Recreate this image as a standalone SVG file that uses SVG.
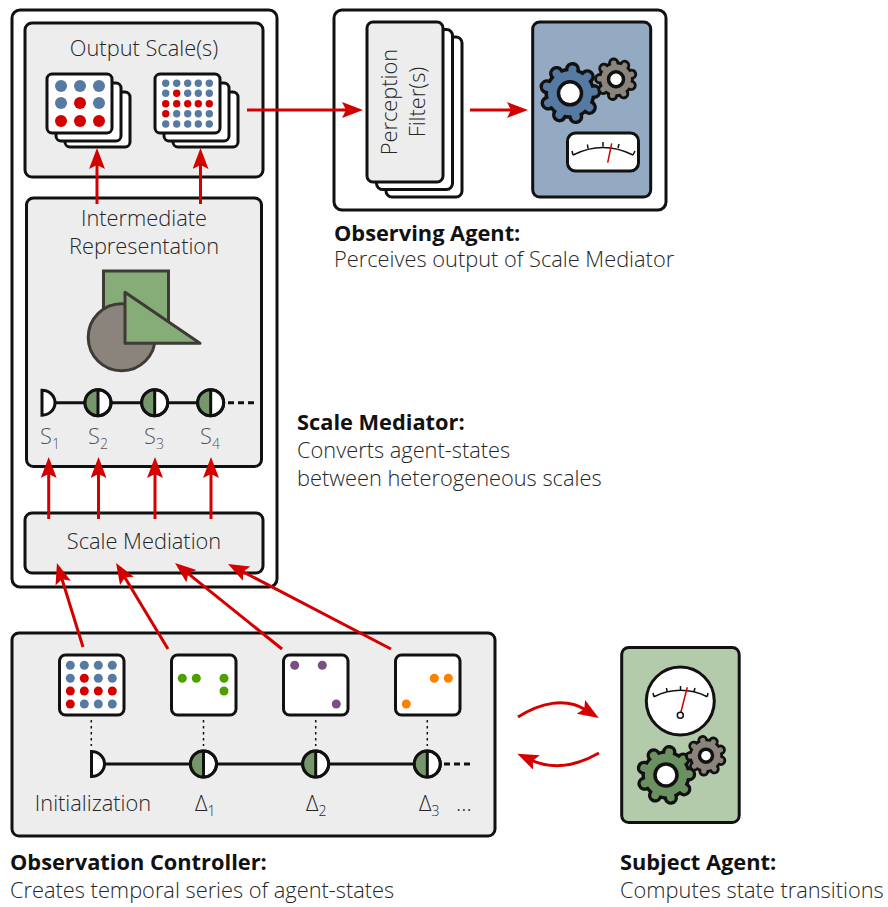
<svg xmlns="http://www.w3.org/2000/svg" width="888" height="907" viewBox="0 0 888 907">
<style>
text{font-family:"Open Sans","Noto Sans","Liberation Sans",sans-serif;font-size:21.8px;font-weight:300;fill:#262626}
.b{font-weight:700;fill:#111}
.s{font-size:14px}
.g{fill:#555}
.m{text-anchor:middle}
.box{fill:#ededed;stroke:#111;stroke-width:3;stroke-linejoin:round}
.card{fill:#fff;stroke:#111;stroke-width:3}
.tl{stroke:#111;stroke-width:3;fill:none}
.dash{stroke:#111;stroke-width:3;fill:none;stroke-dasharray:6 4}
.dot{stroke:#111;stroke-width:1.5;fill:none;stroke-dasharray:2.5 3.5}
.bl{fill:#567aa1}.rd{fill:#d40000}.gr{fill:#4f9e00}.pu{fill:#7a4f85}.or{fill:#ff7f00}
.arrow{stroke:#d40000;stroke-width:3;fill:none;marker-end:url(#ah)}
.hole{fill:#fff;stroke:#111;stroke-width:3.5}
.mk{stroke:#111;stroke-width:1.5;fill:none}
.nd{stroke:#d40000;stroke-width:1.5;fill:none}
.ol{stroke:#111;fill:none;stroke-width:15}
.ols{stroke:#111;fill:none;stroke-width:16.500}
</style>
<defs>
<marker id="ah" markerUnits="userSpaceOnUse" markerWidth="24" markerHeight="18" refX="6" refY="8" orient="auto"><path d="M0,0L21,8L0,16L4,8Z" fill="#d40000"/></marker>
<g id="gearShape" stroke-linecap="round"><circle r="18"/><path d="M0,-19V-24"/><path d="M0,-19V-24" transform="rotate(40)"/><path d="M0,-19V-24" transform="rotate(80)"/><path d="M0,-19V-24" transform="rotate(120)"/><path d="M0,-19V-24" transform="rotate(160)"/><path d="M0,-19V-24" transform="rotate(200)"/><path d="M0,-19V-24" transform="rotate(240)"/><path d="M0,-19V-24" transform="rotate(280)"/><path d="M0,-19V-24" transform="rotate(320)"/></g>
<g id="state"><circle r="13" fill="#fff" stroke="#111" stroke-width="3"/><path d="M0,-12A12,12 0 0 0 0,12Z" fill="#75976a"/><path d="M0,-13V13" stroke="#111" stroke-width="3"/><circle r="13" fill="none" stroke="#111" stroke-width="3"/></g>
<path id="half" d="M0,-12.500A13,12.500 0 0 1 0,12.500Z" fill="#fff" stroke="#111" stroke-width="3"/>
</defs>

<g id="scale-mediator">
<rect x="12" y="10" width="265" height="577" rx="8" fill="#fff" stroke="#111" stroke-width="3"/>
</g>
<g id="output-scales">
<rect class="box" x="25" y="23" width="238" height="154" rx="7"/>
<text class="m" x="144" y="56">Output Scale(s)</text>
<g id="output-coarse">
<rect class="card" x="65" y="92" width="65" height="55" rx="5"/>
<rect class="card" x="56" y="83" width="65" height="58" rx="5"/>
<rect class="card" x="47" y="74" width="65" height="59" rx="5"/>
<circle class="bl" cx="61" cy="86" r="6"/><circle class="bl" cx="80" cy="86" r="6"/><circle class="bl" cx="99" cy="86" r="6"/>
<circle class="bl" cx="61" cy="103" r="6"/><circle class="rd" cx="80" cy="103" r="6"/><circle class="bl" cx="99" cy="103" r="6"/>
<circle class="rd" cx="61" cy="121" r="6"/><circle class="rd" cx="80" cy="121" r="6"/><circle class="rd" cx="99" cy="121" r="6"/>
</g>
<g id="output-fine">
<rect class="card" x="173" y="92" width="65" height="55" rx="5"/>
<rect class="card" x="164" y="83" width="65" height="58" rx="5"/>
<rect class="card" x="155" y="74" width="65" height="59" rx="5"/>
<g class="bl"><circle cx="165.700" cy="83.300" r="3.700"/><circle cx="176.700" cy="83.300" r="3.700"/><circle cx="187.700" cy="83.300" r="3.700"/><circle cx="198.300" cy="83.300" r="3.700"/><circle cx="209.300" cy="83.300" r="3.700"/>
<circle cx="165.700" cy="93.300" r="3.700"/><circle cx="187.700" cy="93.300" r="3.700"/><circle cx="198.300" cy="93.300" r="3.700"/><circle cx="209.300" cy="93.300" r="3.700"/>
<circle cx="176.700" cy="113.700" r="3.700"/><circle cx="187.700" cy="113.700" r="3.700"/><circle cx="198.300" cy="113.700" r="3.700"/><circle cx="209.300" cy="113.700" r="3.700"/>
<circle cx="165.700" cy="124" r="3.700"/><circle cx="176.700" cy="124" r="3.700"/><circle cx="187.700" cy="124" r="3.700"/><circle cx="198.300" cy="124" r="3.700"/><circle cx="209.300" cy="124" r="3.700"/></g>
<g class="rd"><circle cx="176.700" cy="93.300" r="3.700"/><circle cx="165.700" cy="103.700" r="3.700"/><circle cx="176.700" cy="103.700" r="3.700"/><circle cx="187.700" cy="103.700" r="3.700"/><circle cx="198.300" cy="103.700" r="3.700"/><circle cx="209.300" cy="103.700" r="3.700"/><circle cx="165.700" cy="113.700" r="3.700"/></g>
</g>
</g>

<g id="intermediate-representation">
<rect class="box" x="26.500" y="198" width="235" height="268.500" rx="7"/>
<text class="m" x="144" y="226">Intermediate</text>
<text class="m" x="144" y="254">Representation</text>
<rect x="103.500" y="271" width="65" height="68" fill="#86ac78" stroke="#3e3a36" stroke-width="3"/>
<circle cx="121.700" cy="337.300" r="33.500" fill="#8a847c" stroke="#3e3a36" stroke-width="3"/>
<path d="M125,292.300V343.300H200Z" fill="#86ac78" stroke="#3e3a36" stroke-width="3" stroke-linejoin="round"/>
<path class="tl" d="M54,402.700H200"/>
<path class="dash" d="M228,402.700H254"/>
<use href="#half" x="42" y="402.700"/>
<use href="#state" x="98" y="402.700"/>
<use href="#state" x="154.700" y="402.700"/>
<use href="#state" x="210.700" y="402.700"/>
<text class="g" x="40" y="444">S<tspan class="s g" dy="5">1</tspan></text>
<text class="g" x="88" y="444">S<tspan class="s g" dy="5">2</tspan></text>
<text class="g" x="144" y="444">S<tspan class="s g" dy="5">3</tspan></text>
<text class="g" x="200" y="444">S<tspan class="s g" dy="5">4</tspan></text>
</g>

<g id="scale-mediation">
<rect class="box" x="25" y="513" width="238" height="60" rx="7"/>
<text class="m" x="144" y="549">Scale Mediation</text>
</g>

<g id="observing-agent">
<rect x="334" y="10" width="332" height="200" rx="8" fill="#fff" stroke="#111" stroke-width="3"/>
</g>
<g id="perception-filters">
<rect class="card" x="386" y="37" width="76" height="160" rx="6"/>
<rect class="card" x="376.500" y="29.500" width="76" height="160" rx="6"/>
<rect class="box" x="367" y="22" width="76" height="160" rx="6"/>
<text class="m" transform="translate(396.500,102) rotate(-90)">Perception</text>
<text class="m" transform="translate(424.500,102) rotate(-90)">Filter(s)</text>
</g>
<g id="observer-panel">
<rect x="532.700" y="22" width="118" height="175" rx="7" fill="#94a9c2" stroke="#111" stroke-width="3"/>
<use class="ol" href="#gearShape" transform="translate(570,93.300) rotate(6)"/>
<use href="#gearShape" stroke="#567aa1" fill="#567aa1" stroke-width="8" transform="translate(570,93.300) rotate(6)"/>
<circle class="hole" cx="570" cy="93.300" r="11.500"/>
<use class="ols" href="#gearShape" transform="translate(616,79.300) rotate(-8) scale(.68)"/>
<use href="#gearShape" stroke="#8a847c" fill="#8a847c" stroke-width="8" transform="translate(616,79.300) rotate(-8) scale(.68)"/>
<circle class="hole" cx="616" cy="79.300" r="7.500"/>
<rect x="567.500" y="133" width="71" height="38" rx="8" fill="#fff" stroke="#111" stroke-width="3"/>
<path class="mk" d="M573,155Q603,140 633,155M573,155L572,151M588,148.500L587.500,144.500M603,146.500V142M618,148L619,144M633,155L635,151"/>
<path class="nd" d="M607.700,162.700L611.700,143.300"/>
</g>

<g id="observation-controller">
<rect class="box" x="12" y="633" width="483" height="203" rx="7"/>
<rect class="card" x="59.500" y="655" width="64.500" height="60" rx="6"/>
<g class="bl"><circle cx="70.300" cy="665.300" r="4.500"/><circle cx="84.300" cy="665.300" r="4.500"/><circle cx="98.300" cy="665.300" r="4.500"/><circle cx="112.300" cy="665.300" r="4.500"/>
<circle cx="70.300" cy="678.300" r="4.500"/><circle cx="98.300" cy="678.300" r="4.500"/><circle cx="112.300" cy="678.300" r="4.500"/>
<circle cx="84.300" cy="704" r="4.500"/><circle cx="98.300" cy="704" r="4.500"/><circle cx="112.300" cy="704" r="4.500"/></g>
<g class="rd"><circle cx="84.300" cy="678.300" r="4.500"/><circle cx="70.300" cy="691" r="4.500"/><circle cx="84.300" cy="691" r="4.500"/><circle cx="98.300" cy="691" r="4.500"/><circle cx="112.300" cy="691" r="4.500"/><circle cx="70.300" cy="704" r="4.500"/></g>
<rect class="card" x="171.500" y="655" width="64.500" height="60" rx="6"/>
<g class="gr"><circle cx="182.300" cy="678.300" r="4.500"/><circle cx="196.300" cy="678.300" r="4.500"/><circle cx="224" cy="678.300" r="4.500"/><circle cx="224" cy="691" r="4.500"/></g>
<rect class="card" x="283.500" y="655" width="64.500" height="60" rx="6"/>
<g class="pu"><circle cx="294.700" cy="665.300" r="4.500"/><circle cx="322.300" cy="665.300" r="4.500"/><circle cx="336.300" cy="704" r="4.500"/></g>
<rect class="card" x="395.500" y="655" width="64.500" height="60" rx="6"/>
<g class="or"><circle cx="406.300" cy="704" r="4.500"/><circle cx="434.300" cy="678.300" r="4.500"/><circle cx="448.300" cy="678.300" r="4.500"/></g>
<path class="dot" d="M91.300,720V746M203.500,720V746M315.700,720V746M427.300,720V746"/>
<path class="tl" d="M103,764H420"/>
<path class="dash" d="M444,764H471"/>
<use href="#half" x="91.500" y="764"/>
<use href="#state" x="203.500" y="764"/>
<use href="#state" x="315.700" y="764"/>
<use href="#state" x="427.300" y="764"/>
<text class="m" x="93" y="811">Initialization</text>
<text x="195" y="811">Δ<tspan class="s" dy="5">1</tspan></text>
<text x="306" y="811">Δ<tspan class="s" dy="5">2</tspan></text>
<text x="419" y="811">Δ<tspan class="s" dy="5">3</tspan></text>
<text x="456" y="811">...</text>
</g>

<g id="subject-agent">
<rect x="621.700" y="647.500" width="117.500" height="175" rx="7" fill="#b3cbaa" stroke="#111" stroke-width="3"/>
<circle cx="680.300" cy="701" r="34" fill="#fff" stroke="#111" stroke-width="3"/>
<path class="mk" d="M654,696.700Q680.500,684 707.300,696.700M654,696.700L653,693M667,691.500L666.500,688M680.500,689.500V686M694,691.500L695,688M707.300,696.700L708,693"/>
<path class="nd" d="M680.800,712.500L687.300,687.300"/>
<circle cx="680.300" cy="715.300" r="3" fill="#fff" stroke="#111" stroke-width="1.500"/>
<use class="ol" href="#gearShape" transform="translate(666,775) rotate(8) scale(.96)"/>
<use href="#gearShape" stroke="#6b9161" fill="#6b9161" stroke-width="8" transform="translate(666,775) rotate(8) scale(.96)"/>
<circle class="hole" cx="666" cy="775" r="11"/>
<use class="ols" href="#gearShape" transform="translate(706,755.700) rotate(-12) scale(.65)"/>
<use href="#gearShape" stroke="#8a847c" fill="#8a847c" stroke-width="8" transform="translate(706,755.700) rotate(-12) scale(.65)"/>
<circle class="hole" cx="706" cy="755.700" r="6.500"/>
</g>

<g id="connectors">
<path class="arrow" d="M97,204V163"/>
<path class="arrow" d="M200.500,204V163"/>
<path class="arrow" d="M48.700,519V472"/>
<path class="arrow" d="M98.500,519V472"/>
<path class="arrow" d="M155,519V472"/>
<path class="arrow" d="M211,519V472"/>
<path class="arrow" d="M247,110H348"/>
<path class="arrow" d="M470,110H513"/>
<path class="arrow" d="M83,647L61.400,577.300"/>
<path class="arrow" d="M168,649L123.800,575.800"/>
<path class="arrow" d="M282,649L186.700,572.400"/>
<path class="arrow" d="M391,649L241.300,570.900"/>
<path class="arrow" d="M518,717C540,703 565,697 586,710"/>
<path class="arrow" d="M599,753C578,765 555,771 531,760"/>
</g>

<g id="labels">
<text class="b" x="334" y="241">Observing Agent:</text>
<text x="334" y="267">Perceives output of Scale Mediator</text>
<text class="b" x="297" y="430">Scale Mediator:</text>
<text x="297" y="458">Converts agent-states</text>
<text x="297" y="486">between heterogeneous scales</text>
<text class="b" x="10" y="870">Observation Controller:</text>
<text x="10" y="898">Creates temporal series of agent-states</text>
<text class="b" x="620" y="870">Subject Agent:</text>
<text x="620" y="898">Computes state transitions</text>
</g>
</svg>
